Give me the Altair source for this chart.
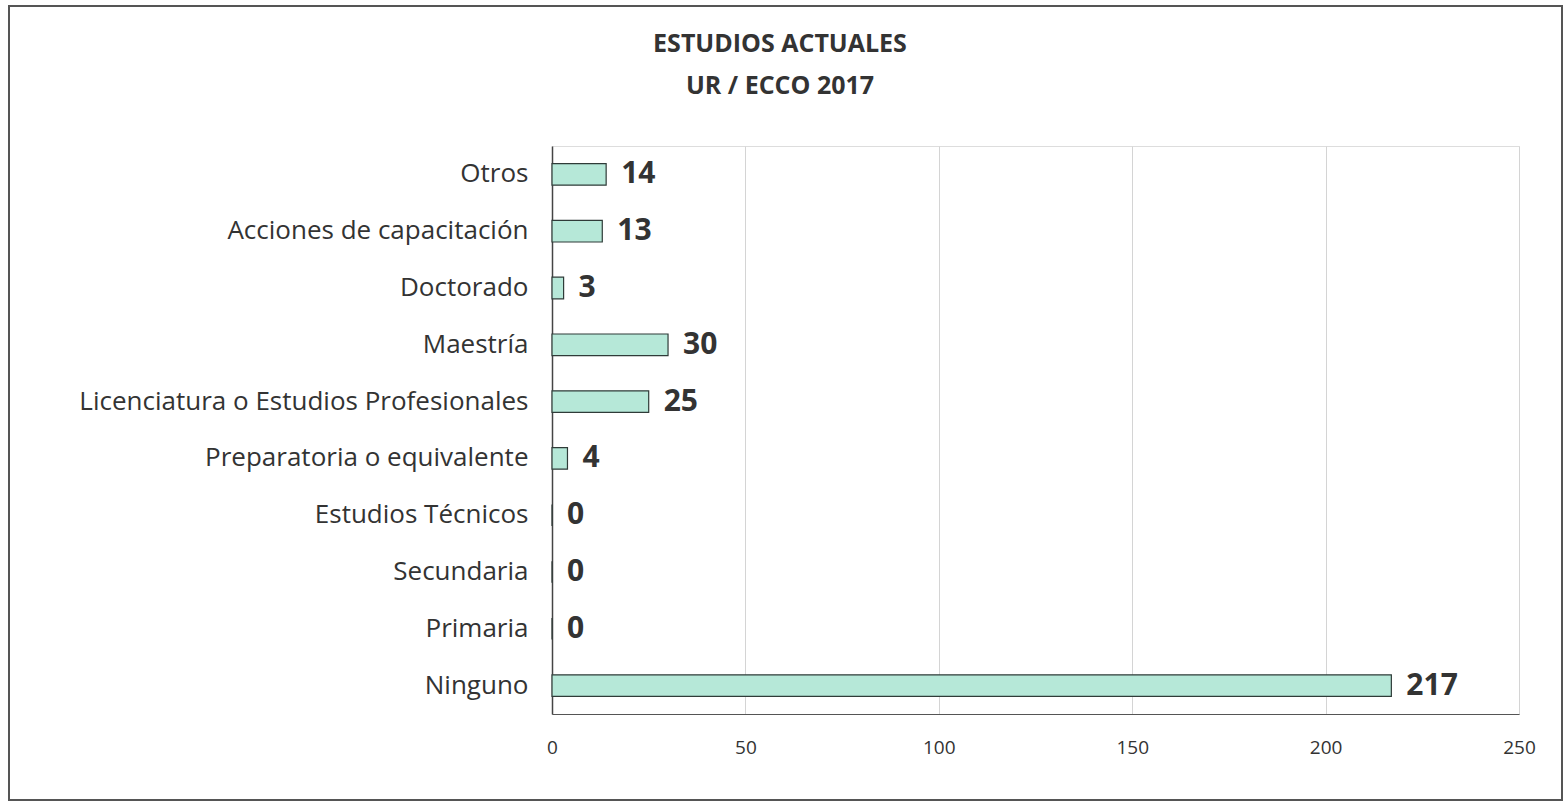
import altair as alt
import pandas as pd

# Nivel de estudios actuales, conteos por categoría
categorias = [
    "Otros",
    "Acciones de capacitación",
    "Doctorado",
    "Maestría",
    "Licenciatura o Estudios Profesionales",
    "Preparatoria o equivalente",
    "Estudios Técnicos",
    "Secundaria",
    "Primaria",
    "Ninguno",
]
valores = [14, 13, 3, 30, 25, 4, 0, 0, 0, 217]
ticks_x = [0, 50, 100, 150, 200, 250]
titulo = ["ESTUDIOS ACTUALES", "UR / ECCO 2017"]

df = pd.DataFrame({"categoria": categorias, "valor": valores})

W, H = 967, 568
PAD_L, PAD_T = 552, 146
FONT = "Open Sans"
INK = "#333333"

y_enc = alt.Y(
    "categoria:N",
    sort=categorias,
    title=None,
    scale=alt.Scale(paddingInner=0.62, paddingOuter=0.31),
    axis=alt.Axis(
        labelFont=FONT,
        labelFontSize=26,
        labelColor=INK,
        labelPadding=24,
        ticks=False,
        domainColor="#444444",
        domainWidth=1.5,
        grid=False,
        labelLimit=700,
    ),
)

x_enc = alt.X(
    "valor:Q",
    title=None,
    scale=alt.Scale(domain=[0, 250], nice=False),
    axis=alt.Axis(
        values=ticks_x,
        labelFont=FONT,
        labelFontSize=19,
        labelColor=INK,
        labelPadding=24,
        labelFlush=False,
        labelOverlap=False,
        ticks=False,
        domainColor="#555555",
        domainWidth=1.2,
        gridColor="#d4d4d4",
        gridWidth=1,
    ),
)

bars = alt.Chart(df).mark_bar(
    color="#b6e8d8", stroke="#2f3b38", strokeWidth=1.2
).encode(x=x_enc, y=y_enc)

labels = alt.Chart(df).mark_text(
    align="left", baseline="middle", dx=15, font=FONT, fontSize=30,
    fontWeight="bold", color=INK,
).encode(x=x_enc, y=y_enc, text="valor:Q")

# Título en dos líneas, centrado sobre toda la figura
encabezado = alt.Chart(pd.DataFrame({"k": [0]})).mark_text(
    align="center", baseline="alphabetic", font=FONT, fontSize=25,
    fontWeight="bold", color=INK, lineBreak="\n", lineHeight=42,
).encode(
    x=alt.value(780 - PAD_L),
    y=alt.value(52 - PAD_T),
    text=alt.value("\n".join(titulo)),
)

# Marco exterior alrededor de toda la figura
marco = alt.Chart(pd.DataFrame({"k": [0]})).mark_rect(
    fill=None, stroke="#555555", strokeWidth=2
).encode(
    x=alt.value(9 - PAD_L),
    x2=alt.value(1562 - PAD_L),
    y=alt.value(6 - PAD_T),
    y2=alt.value(800 - PAD_T),
)

chart = (
    alt.layer(bars, labels, encabezado, marco)
    .properties(
        width=W,
        height=H,
        autosize=alt.AutoSizeParams(type="none"),
        padding={"left": PAD_L, "top": PAD_T, "right": 1567 - PAD_L - W, "bottom": 812 - PAD_T - H},
    )
    .configure_view(stroke=None)
    .configure_axisX(labelFontSize=19, labelFont=FONT, labelColor=INK, labelFlush=False)
    .configure_axisY(labelFontSize=26, labelFont=FONT, labelColor=INK)
    .configure(background="white")
)

chart.save("out.html", embed_options={"renderer": "svg", "actions": False})
